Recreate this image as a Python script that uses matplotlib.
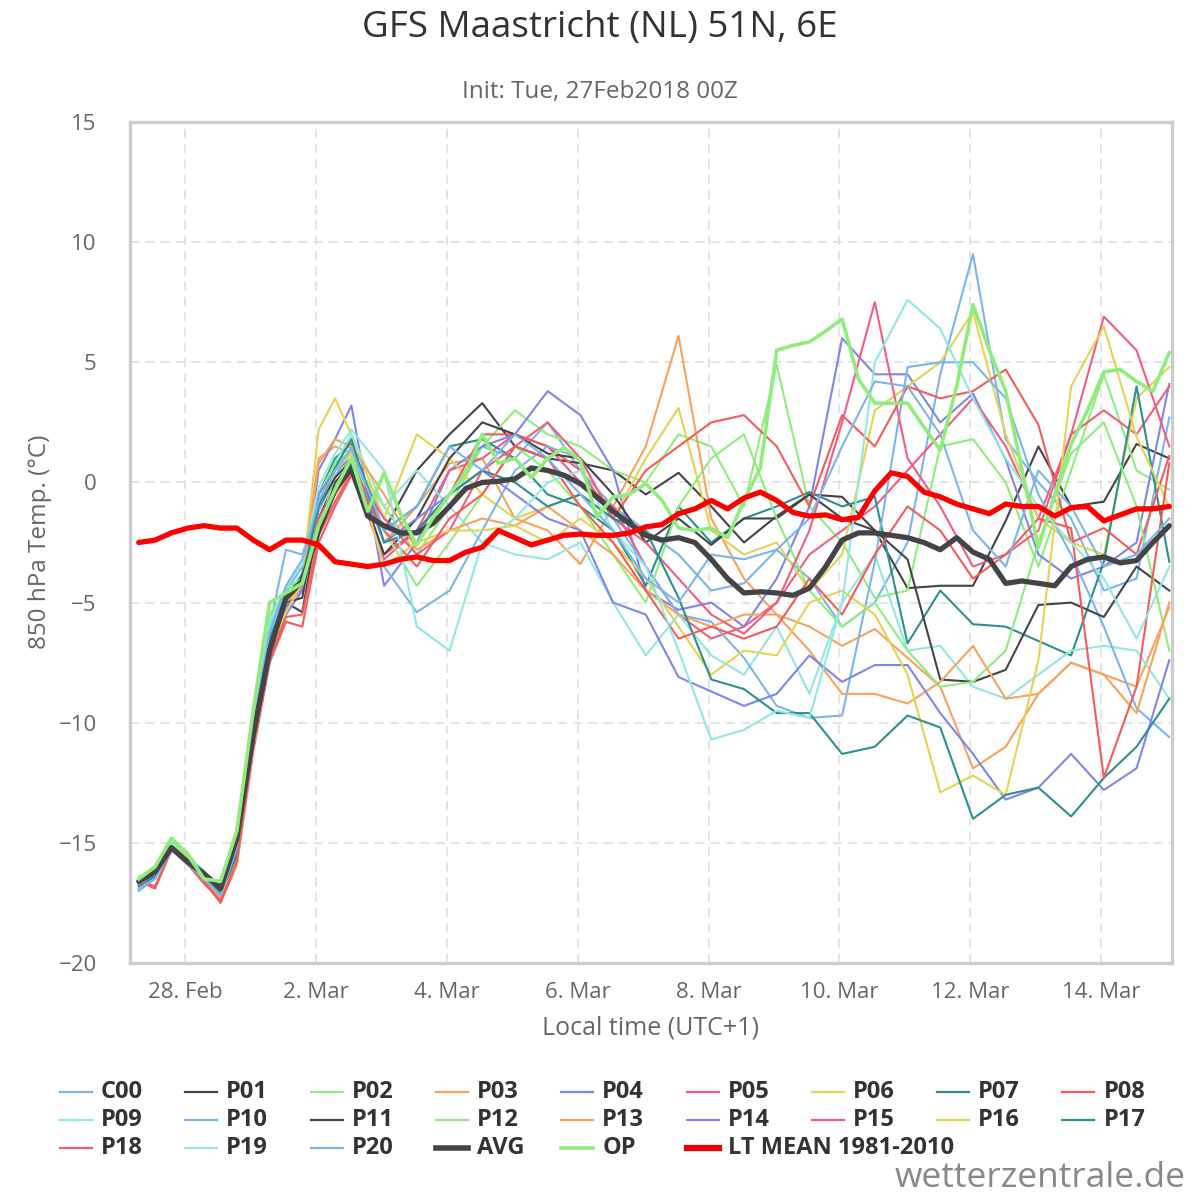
import matplotlib
matplotlib.use("Agg")
import matplotlib.pyplot as plt
from matplotlib.lines import Line2D

plt.rcParams["font.family"] = ["Open Sans", "DejaVu Sans"]

# forecast hours after init (27 Feb 2018 00Z); local time = UTC+1
MEMBER_HOURS = [6, 12, 18, 24, 30, 36, 42, 48, 54, 60, 66, 72, 78, 84] + list(range(96, 385, 12))
FULL_HOURS = list(range(6, 385, 6))

TICK_HOURS = [23, 71, 119, 167, 215, 263, 311, 359]  # local midnights
TICK_LABELS = ["28. Feb", "2. Mar", "4. Mar", "6. Mar", "8. Mar", "10. Mar", "12. Mar", "14. Mar"]

C00 = [-16.9, -16.4, -15.3, -15.8, -16.5, -17.2, -15.0, -10.0, -6.0, -2.8, -3.0, -1.0, 0.5, 1.2,
       -1.5, -2.5, -0.5, 1.5, 1.0, 2.5, 0.5, -1.0, -2.0, -3.0, -4.5, -4.2, -2.8, -4.0, -6.0, -5.0,
       -2.5, 4.5, 9.5, 1.8, 0.0, -1.5, -4.5, -4.0, 2.7]
P01 = [-16.6, -16.2, -15.1, -15.6, -16.2, -16.9, -15.3, -10.5, -6.5, -5.0, -5.4, -1.5, 0.0, 0.8,
       -2.0, 0.5, 2.0, 3.3, 1.5, 1.0, 0.8, 0.5, -0.5, 0.4, -1.0, -2.5, -1.4, -0.5, -0.6, -2.0,
       -4.4, -4.3, -4.3, -1.6, 1.5, -1.0, -0.8, 1.6, 1.0]
P02 = [-16.5, -16.0, -14.9, -15.4, -16.4, -17.0, -15.0, -9.5, -5.5, -4.5, -4.2, -2.0, 0.3, 1.0,
       -1.0, -3.0, -1.0, 1.5, 3.0, 2.0, 1.5, 0.5, 0.0, 2.0, 1.5, -1.0, 4.9, -1.0, -2.5, -4.8,
       -4.5, 1.5, 1.8, 0.0, -3.5, 0.5, 4.5, 0.5, -0.3]
P03 = [-16.8, -16.3, -15.2, -15.9, -16.5, -17.4, -15.5, -10.5, -7.0, -5.2, -3.8, 1.0, 1.5, 1.2,
       -2.5, -1.0, 0.8, 1.0, -1.5, -2.0, -3.4, -1.0, 1.5, 6.1, -1.5, -4.0, -5.5, -6.0, -6.8, -6.1,
       -7.3, -8.5, -11.9, -11.0, -8.8, -7.5, -8.0, -8.5, -5.2]
P04 = [-16.7, -16.4, -15.3, -15.7, -16.2, -16.8, -15.2, -11.0, -7.5, -5.5, -4.5, 0.5, 1.8, 3.2,
       -4.3, -2.5, 0.5, 1.5, 2.0, 3.8, 2.8, 0.5, -4.5, -5.3, -5.0, -6.0, -4.0, -1.0, 6.0, 4.5,
       4.5, 2.5, 3.7, 0.95, -3.0, -4.0, -3.5, -2.5, 4.1]
P05 = [-16.6, -16.1, -15.0, -15.6, -16.6, -17.3, -15.6, -10.8, -6.8, -5.0, -4.2, -1.8, -0.5, 0.5,
       -3.2, -2.0, 0.5, 1.0, 2.0, 1.5, 0.0, -1.0, -3.5, -5.5, -6.5, -6.0, -5.0, -3.0, -2.0, -1.0,
       0.5, 2.0, 3.5, 1.5, -1.5, 2.0, 3.0, 2.0, 4.0]
P06 = [-16.5, -16.2, -15.0, -15.5, -16.3, -17.1, -15.8, -11.0, -7.0, -5.3, -4.0, 2.2, 3.5, 2.0,
       -1.5, 2.0, 1.0, -0.5, -1.5, -1.0, -0.5, -1.5, 1.0, 3.1, -2.0, -3.0, -2.5, -4.5, -3.0, 3.0,
       4.0, 5.0, 7.1, 2.0, -1.5, -2.5, -3.0, 3.5, 4.8]
P07 = [-16.7, -16.3, -15.2, -15.6, -16.2, -17.0, -15.4, -10.3, -6.5, -4.8, -3.8, -0.5, 1.0, 1.6,
       -2.0, -1.0, 1.5, 1.8, 1.0, -0.5, -1.0, -2.0, -4.3, -1.0, -2.5, -1.5, -1.0, -0.4, -1.0, -0.6,
       -6.7, -4.5, -5.9, -6.0, -6.6, -7.2, -3.3, 4.0, -3.3]
P08 = [-16.6, -16.9, -15.3, -15.8, -16.6, -17.5, -15.9, -11.2, -7.5, -5.8, -6.0, -2.5, -1.0, 0.3,
       -3.0, -2.0, -0.5, 2.0, 2.0, 1.5, 0.5, -1.5, 0.5, 1.5, 2.5, 2.8, 1.5, -1.0, 2.8, 1.5,
       4.0, 3.5, 3.8, 4.7, 2.4, -2.5, -1.9, -3.0, 1.1]
P09 = [-16.5, -16.2, -15.0, -15.5, -16.3, -16.9, -15.0, -10.0, -6.0, -4.6, -3.5, -0.8, 0.8, 2.0,
       -1.0, 0.5, -1.0, -2.5, -3.0, -3.2, -2.5, -5.0, -7.2, -5.5, -7.2, -8.0, -6.0, -8.8, -5.0, -3.0,
       -7.0, -6.8, -8.5, -9.0, -8.0, -7.0, -6.8, -7.0, -9.0]
P10 = [-17.0, -16.5, -15.2, -15.8, -16.4, -17.1, -15.2, -10.2, -6.3, -4.5, -3.5, -1.2, 0.2, 1.5,
       -3.5, -5.4, -4.5, -2.0, 0.5, 1.5, 1.0, -1.5, -3.5, -5.5, -5.8, -7.3, -9.3, -9.8, -9.7, -3.3,
       4.8, 5.0, 5.0, 3.5, -0.5, -3.0, -6.0, -9.4, -10.6]
P11 = [-16.6, -16.3, -15.2, -15.7, -16.3, -17.0, -15.4, -10.6, -6.6, -5.0, -4.8, -1.0, 0.2, 0.9,
       -3.0, -1.5, 1.0, 2.5, 2.0, 1.2, 1.0, -0.5, -2.5, -1.5, -2.6, -1.5, -1.5, -0.5, -1.5, -2.0,
       -3.2, -8.2, -8.3, -7.8, -5.1, -5.0, -5.6, -3.5, -4.5]
P12 = [-16.5, -16.1, -14.9, -15.5, -16.5, -17.0, -15.1, -9.8, -5.8, -4.4, -4.0, -0.5, 0.8, 1.3,
       -2.0, -4.3, -2.5, -0.5, 1.5, 0.5, -1.0, -3.0, -5.0, -1.0, 1.0, 2.0, -1.5, -4.5, -6.0, -5.0,
       -7.0, -8.5, -8.3, -7.0, -2.5, 1.2, 2.5, -1.0, -7.0]
P13 = [-16.8, -16.3, -15.2, -15.8, -16.5, -17.3, -15.6, -10.7, -6.9, -5.0, -4.1, 0.8, 1.8, 1.5,
       -0.5, -2.8, -2.0, -1.5, -1.8, -1.0, -2.0, -3.0, -4.5, -5.5, -6.0, -5.5, -5.5, -7.0, -8.8, -8.8,
       -9.2, -8.3, -6.8, -9.0, -8.8, -7.5, -8.0, -9.6, -5.0]
P14 = [-16.7, -16.4, -15.3, -15.7, -16.3, -17.0, -15.3, -10.8, -7.0, -5.2, -4.4, -0.5, 0.5, 1.0,
       -2.5, -1.5, -0.5, 0.5, -0.5, -1.5, -2.0, -5.0, -5.5, -8.1, -8.7, -9.3, -8.8, -7.2, -8.3, -7.6,
       -7.6, -9.6, -11.3, -13.2, -12.7, -11.3, -12.8, -11.9, -7.4]
P15 = [-16.6, -16.2, -15.1, -15.6, -16.5, -17.2, -15.5, -10.6, -6.7, -4.9, -4.3, -1.5, -0.3, 0.6,
       -1.5, -3.0, -2.0, 0.5, 1.5, 2.5, 1.0, -1.5, -2.5, -4.0, -5.5, -6.3, -5.0, -2.0, 2.5, 7.5,
       1.0, -1.0, -3.5, -3.0, -2.0, 2.0, 6.9, 5.5, 1.5]
P16 = [-16.5, -16.2, -15.0, -15.6, -16.4, -17.2, -15.9, -11.0, -7.2, -5.4, -4.2, -1.0, 0.5, 1.2,
       -3.5, -2.5, -2.0, -2.0, -1.8, -2.5, -1.5, -2.5, -4.0, -6.0, -8.0, -7.0, -7.2, -5.0, -4.5, -5.5,
       -8.0, -12.9, -12.2, -13.0, -7.4, 4.0, 6.5, 1.9, -1.0]
P17 = [-16.8, -16.4, -15.3, -15.7, -16.3, -17.1, -15.5, -10.4, -6.6, -4.9, -4.0, -1.0, 0.6, 1.8,
       -2.5, -2.0, -0.5, 0.5, 0.0, -1.0, -0.5, -1.5, -2.0, -4.8, -8.2, -8.6, -9.6, -9.6, -11.3, -11.0,
       -9.7, -10.2, -14.0, -13.0, -12.7, -13.9, -12.3, -11.0, -9.0]
P18 = [-16.6, -16.8, -15.3, -15.9, -16.7, -17.4, -15.8, -11.0, -7.3, -5.6, -5.5, -2.2, -0.8, 0.4,
       -2.0, -3.5, -1.5, -0.5, 1.5, 1.0, -1.0, -2.5, -4.5, -6.5, -6.0, -6.5, -6.0, -4.0, -5.5, -3.0,
       -1.0, -2.0, -4.0, -3.0, -1.5, -1.9, -12.3, -8.5, 0.8]
P19 = [-16.4, -16.1, -15.0, -15.5, -16.3, -16.8, -14.9, -9.8, -5.8, -4.4, -3.4, -0.2, 1.2, 2.2,
       0.5, -6.0, -7.0, -2.5, -1.5, 0.0, 0.5, -2.0, -3.5, -7.0, -10.7, -10.3, -9.5, -9.8, -5.0, 5.0,
       7.6, 6.4, 3.5, 1.0, -1.0, -2.5, -4.0, -6.5, -3.5]
P20 = [-16.9, -16.5, -15.3, -15.9, -16.5, -17.2, -15.2, -10.1, -6.2, -4.3, -3.2, -0.8, 0.5, 1.4,
       -2.0, -1.0, 1.5, 0.5, 2.0, 1.0, -0.5, -2.0, -4.0, -5.0, -3.0, -3.2, -2.8, -1.5, 1.5, 4.2,
       4.0, 2.0, -2.0, -3.5, 0.5, -1.0, -3.5, -3.0, -1.5]

AVG = [-16.6, -16.2, -15.2, -15.8, -16.3, -16.9, -14.8, -10.5, -7.0, -4.8,
       -4.1, -2.0, -0.3, 0.6, -1.4, -1.8, -2.1, -2.1, -1.7, -1.0,
       -0.25, 0.0, 0.05, 0.15, 0.6, 0.5, 0.3, -0.05, -0.6, -1.2,
       -1.7, -2.2, -2.4, -2.3, -2.5, -3.2, -4.0, -4.6, -4.55, -4.6,
       -4.7, -4.4, -3.5, -2.4, -2.1, -2.1, -2.2, -2.3, -2.5, -2.8,
       -2.3, -2.9, -3.2, -4.2, -4.1, -4.2, -4.3, -3.5, -3.2, -3.1,
       -3.35, -3.25, -2.5, -1.8]
OP = [-16.5, -16.0, -14.8, -15.5, -16.5, -16.6, -14.5, -9.5, -5.0, -4.6,
      -4.2, -1.8, -0.3, 1.0, -1.2, 0.4, -1.3, -2.6, -1.45, -0.5,
      0.4, 2.0, 0.8, 1.0, 0.2, 1.0, 1.45, 0.9, -1.45, -0.6,
      -0.5, -0.05, -0.75, -1.9, -2.0, -1.9, -2.3, -0.75, 0.6, 5.5,
      5.7, 5.85, 6.3, 6.8, 4.3, 3.3, 3.3, 3.3, 2.3, 1.35,
      4.0, 7.4, 5.5, 3.8, 0.5, -2.7, -0.5, 1.6, 3.0, 4.6,
      4.7, 4.2, 3.8, 5.4]
LT_MEAN = [-2.5, -2.4, -2.1, -1.9, -1.8, -1.9, -1.9, -2.4, -2.8, -2.4,
           -2.4, -2.6, -3.3, -3.4, -3.5, -3.4, -3.2, -3.1, -3.25, -3.25,
           -2.9, -2.7, -2.0, -2.3, -2.6, -2.4, -2.2, -2.15, -2.2, -2.2,
           -2.1, -1.85, -1.75, -1.3, -1.1, -0.75, -1.1, -0.65, -0.4, -0.75,
           -1.25, -1.4, -1.35, -1.55, -1.45, -0.35, 0.4, 0.25, -0.4, -0.6,
           -0.9, -1.1, -1.3, -0.9, -1.0, -1.0, -1.4, -1.05, -1.0, -1.6,
           -1.35, -1.1, -1.1, -1.0]

MEMBER_NAMES = ["C00"] + [f"P{i:02d}" for i in range(1, 21)]
MEMBER_VALUES = [C00, P01, P02, P03, P04, P05, P06, P07, P08, P09, P10,
                 P11, P12, P13, P14, P15, P16, P17, P18, P19, P20]

# highcharts default palette, cycled over the members
PALETTE = ["#7cb5ec", "#434348", "#90ed7d", "#f7a35c", "#8085e9",
           "#f15c80", "#e4d354", "#2b908f", "#f45b5b", "#91e8e1"]
AVG_COLOR = "#434348"
OP_COLOR = "#90ed7d"
LT_COLOR = "#ff0000"

W, H = 1200, 1200
fig = plt.figure(figsize=(12, 12), dpi=100)
ax = fig.add_axes([130 / W, 1 - 963 / H, (1172 - 130) / W, (963 - 122) / H])

legend_items = []
for k, (name, vals) in enumerate(zip(MEMBER_NAMES, MEMBER_VALUES)):
    col = PALETTE[k % len(PALETTE)]
    ax.plot(MEMBER_HOURS, vals, color=col, lw=1.5, zorder=2)
    legend_items.append((name, col, 1.6))

ax.plot(FULL_HOURS, AVG, color=AVG_COLOR, lw=3.8, zorder=3, solid_capstyle="round")
ax.plot(FULL_HOURS, OP, color=OP_COLOR, lw=2.6, zorder=4)
ax.plot(FULL_HOURS, LT_MEAN, color=LT_COLOR, lw=3.8, zorder=5, solid_capstyle="round")
legend_items += [("AVG", AVG_COLOR, 4.0), ("OP", OP_COLOR, 2.6), ("LT MEAN 1981-2010", "#e8000b", 4.5)]

ax.set_xlim(2.8, 385)
ax.set_ylim(-20, 15)
ax.set_yticks(range(-20, 16, 5))
ax.set_xticks(TICK_HOURS)
ax.set_xticklabels(TICK_LABELS)
ax.tick_params(axis="both", length=0, labelsize=16, labelcolor="#666666")
ax.tick_params(axis="y", pad=24)
ax.tick_params(axis="x", pad=14)
ax.grid(True, color="#dddddd", linestyle=(0, (6, 4)), lw=1.1, zorder=0)
ax.set_axisbelow(True)
for s in ax.spines.values():
    s.set_color("#cccccc")
    s.set_linewidth(2.4)

fig.text(0.5, 1 - 28 / H, "GFS Maastricht (NL) 51N, 6E", ha="center", va="center",
         fontsize=26.5, color="#333333")
fig.text(0.5, 1 - 92 / H, "Init: Tue, 27Feb2018 00Z", ha="center", va="center",
         fontsize=17.5, color="#666666")
fig.text(40 / W, 1 - 542 / H, "850 hPa Temp. (°C)", ha="center", va="center",
         rotation=90, fontsize=17.5, color="#666666")
fig.text(651 / W, 1 - 1028 / H, "Local time (UTC+1)", ha="center", va="center",
         fontsize=18, color="#666666")

# legend laid out like the highcharts one: fixed-width items, 9 per row
for k, (label, col, lw) in enumerate(legend_items):
    row, cidx = divmod(k, 9)
    x0 = 60 + 125.3 * cidx
    y = 1092 + 28 * row
    fig.add_artist(Line2D([x0 / W, (x0 + 32) / W], [1 - y / H, 1 - y / H],
                          color=col, lw=lw, transform=fig.transFigure))
    fig.text((x0 + 41) / W, 1 - y / H, label, ha="left", va="center",
             fontsize=17, fontweight="bold", color="#333333")

fig.text(1186 / W, 1 - 1178 / H, "wetterzentrale.de", ha="right", va="center",
         fontsize=25.5, color="#888888")

fig.savefig("out.png", dpi=100)
